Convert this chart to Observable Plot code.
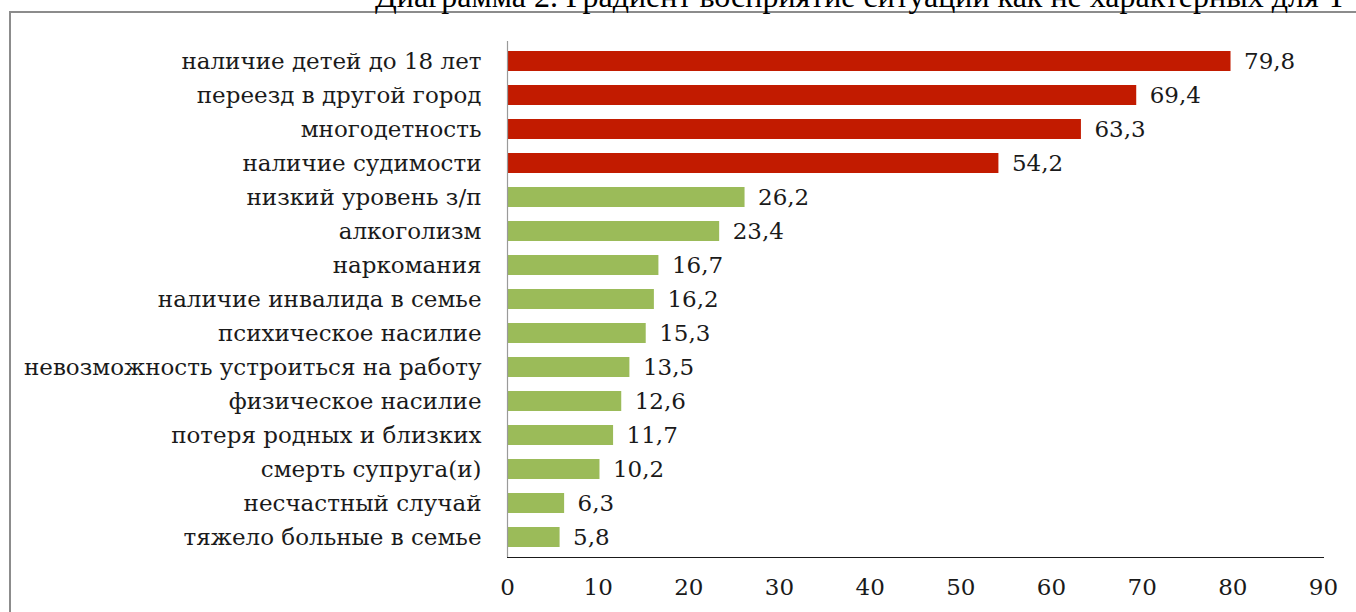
<!DOCTYPE html>
<html>
<head>
<meta charset="utf-8">
<script src="https://cdn.jsdelivr.net/npm/d3@7"></script>
<script src="https://cdn.jsdelivr.net/npm/@observablehq/plot@0.6"></script>
<style>
  html, body { margin: 0; padding: 0; background: #fff; }
  #wrap { position: relative; width: 1356px; height: 612px; overflow: hidden; }
  #title { position: absolute; left: 375px; top: -20px; white-space: nowrap; line-height: 1;
           font-family: "Liberation Serif", serif; font-size: 32px; color: #000; }
  #border { position: absolute; left: 9px; top: 11px; width: 1400px; height: 700px;
            border: 2px solid #8c8c8c; box-sizing: border-box; }
  #chart { position: absolute; left: 0; top: 0; }
</style>
</head>
<body>
<div id="wrap">
  <div id="border"></div>
  <div id="title">Диаграмма 2. Градиент восприятие ситуаций как не характерных для Т</div>
  <div id="chart"></div>
</div>
<script>
const categories = [
  "наличие детей до 18 лет",
  "переезд в другой город",
  "многодетность",
  "наличие судимости",
  "низкий уровень з/п",
  "алкоголизм",
  "наркомания",
  "наличие инвалида в семье",
  "психическое насилие",
  "невозможность устроиться на работу",
  "физическое насилие",
  "потеря родных и близких",
  "смерть супруга(и)",
  "несчастный случай",
  "тяжело больные в семье"
];
const values = [79.8, 69.4, 63.3, 54.2, 26.2, 23.4, 16.7, 16.2, 15.3, 13.5, 12.6, 11.7, 10.2, 6.3, 5.8];
const groups = ["high","high","high","high","low","low","low","low","low","low","low","low","low","low","low"];
const xTicks = [0, 10, 20, 30, 40, 50, 60, 70, 80, 90];

const data = categories.map((c, i) => ({category: c, value: values[i], group: groups[i]}));
const fmt = v => v.toFixed(1).replace(".", ",");
const font = "'DejaVu Serif', serif";

const chart = Plot.plot({
  width: 1356,
  height: 612,
  marginLeft: 507,
  marginRight: 33,
  marginTop: 41,
  marginBottom: 55,
  style: { fontFamily: font, fontSize: "23px", color: "#1a1a1a", background: "transparent" },
  x: { domain: [0, 90], ticks: xTicks, tickSize: 0, tickPadding: 21, label: null, line: true, tickFormat: d => String(d) },
  y: { domain: categories, paddingInner: 0.42, paddingOuter: 0.21, tickSize: 0, tickPadding: 26, label: null },
  color: { domain: ["high", "low"], range: ["#c21b00", "#9bbb59"] },
  marks: [
    Plot.barX(data, { y: "category", x: "value", fill: "group" }),
    Plot.ruleX([0], { stroke: "#9a9a9a", strokeWidth: 1.2 }),
    Plot.text(data, { y: "category", x: "value", text: d => fmt(d.value), dx: 13, textAnchor: "start", fontSize: 23, fill: "#1a1a1a" })
  ]
});
document.getElementById("chart").appendChild(chart);
chart.querySelectorAll("g[aria-label='x-axis'] path, g[aria-label='x-axis'] .domain").forEach(el => el.setAttribute("stroke", "#9a9a9a"));
</script>
</body>
</html>
